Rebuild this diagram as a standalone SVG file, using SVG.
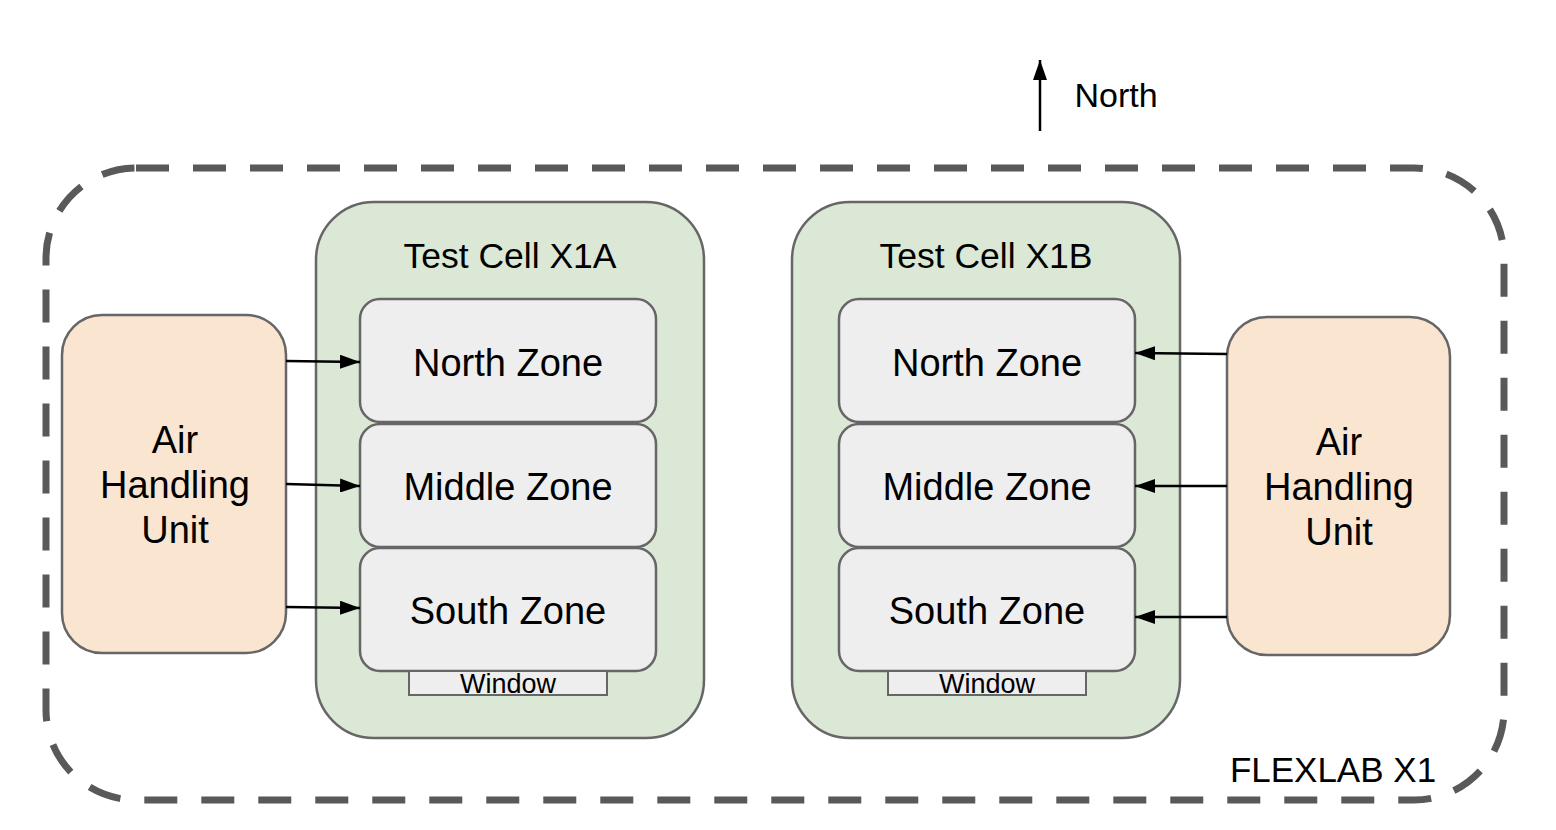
<svg xmlns="http://www.w3.org/2000/svg" width="1556" height="830" viewBox="0 0 1556 830">
<style>
text{font-family:"Liberation Sans",Arial,sans-serif;fill:#000;text-anchor:middle}
.cell{fill:#dae8d5;stroke:#666;stroke-width:2.5}
.zone{fill:#eeeeee;stroke:#666;stroke-width:2.5}
.ahu{fill:#f9e5d0;stroke:#666;stroke-width:2.5}
.win{fill:#eeeeee;stroke:#666;stroke-width:2}
.conn{stroke:#000;stroke-width:2.5;fill:none;marker-end:url(#ah)}
.zt{font-size:38px}
.ct{font-size:35.5px}
.wt{font-size:27px}
</style>
<defs>
<marker id="ah" viewBox="0 0 20 14" refX="20" refY="7" markerWidth="20" markerHeight="14" markerUnits="userSpaceOnUse" orient="auto">
<path d="M0,0 L20,7 L0,14 Z" fill="#000"/>
</marker>
</defs>
<rect id="blank" width="1556" height="830" fill="#fff"/>
<g id="flexlab">
<rect x="46" y="168" width="1458" height="632" rx="90" ry="90" fill="none" stroke="#595959" stroke-width="7" stroke-dasharray="33 24"/>
<text x="1333" y="782" style="font-size:35px">FLEXLAB X1</text>
</g>
<g id="north">
<line x1="1040" y1="131" x2="1040" y2="60" class="conn"/>
<text x="1116" y="107" style="font-size:34px">North</text>
</g>
<g id="cellA">
<rect class="cell" x="316" y="202" width="388" height="536" rx="58"/>
<text class="ct" x="510" y="268">Test Cell X1A</text>
</g>
<g id="zoneA-north"><rect class="zone" x="360" y="299" width="296" height="123" rx="20"/><text class="zt" x="508" y="376">North Zone</text></g>
<g id="zoneA-middle"><rect class="zone" x="360" y="424" width="296" height="123" rx="20"/><text class="zt" x="508" y="500">Middle Zone</text></g>
<g id="zoneA-south"><rect class="zone" x="360" y="548" width="296" height="123" rx="20"/><text class="zt" x="508" y="624">South Zone</text></g>
<g id="windowA"><rect class="win" x="409" y="671" width="198" height="24"/><text class="wt" x="508" y="693">Window</text></g>
<g id="cellB">
<rect class="cell" x="792" y="202" width="388" height="536" rx="58"/>
<text class="ct" x="986" y="268">Test Cell X1B</text>
</g>
<g id="zoneB-north"><rect class="zone" x="839" y="299" width="296" height="123" rx="20"/><text class="zt" x="987" y="376">North Zone</text></g>
<g id="zoneB-middle"><rect class="zone" x="839" y="424" width="296" height="123" rx="20"/><text class="zt" x="987" y="500">Middle Zone</text></g>
<g id="zoneB-south"><rect class="zone" x="839" y="548" width="296" height="123" rx="20"/><text class="zt" x="987" y="624">South Zone</text></g>
<g id="windowB"><rect class="win" x="888" y="671" width="198" height="24"/><text class="wt" x="987" y="693">Window</text></g>
<g id="ahuA">
<rect class="ahu" x="62" y="315" width="224" height="338" rx="40"/>
<text class="zt" x="175" y="453">Air</text>
<text class="zt" x="175" y="498">Handling</text>
<text class="zt" x="175" y="543">Unit</text>
</g>
<g id="ahuB">
<rect class="ahu" x="1227" y="317" width="223" height="338" rx="40"/>
<text class="zt" x="1339" y="455">Air</text>
<text class="zt" x="1339" y="500">Handling</text>
<text class="zt" x="1339" y="545">Unit</text>
</g>
<g id="connectors">
<line class="conn" x1="286" y1="361" x2="360" y2="362"/>
<line class="conn" x1="286" y1="484" x2="360" y2="486"/>
<line class="conn" x1="286" y1="607" x2="360" y2="608"/>
<line class="conn" x1="1227" y1="354" x2="1135" y2="353"/>
<line class="conn" x1="1227" y1="486" x2="1135" y2="486"/>
<line class="conn" x1="1227" y1="617" x2="1135" y2="617"/>
</g>
</svg>
